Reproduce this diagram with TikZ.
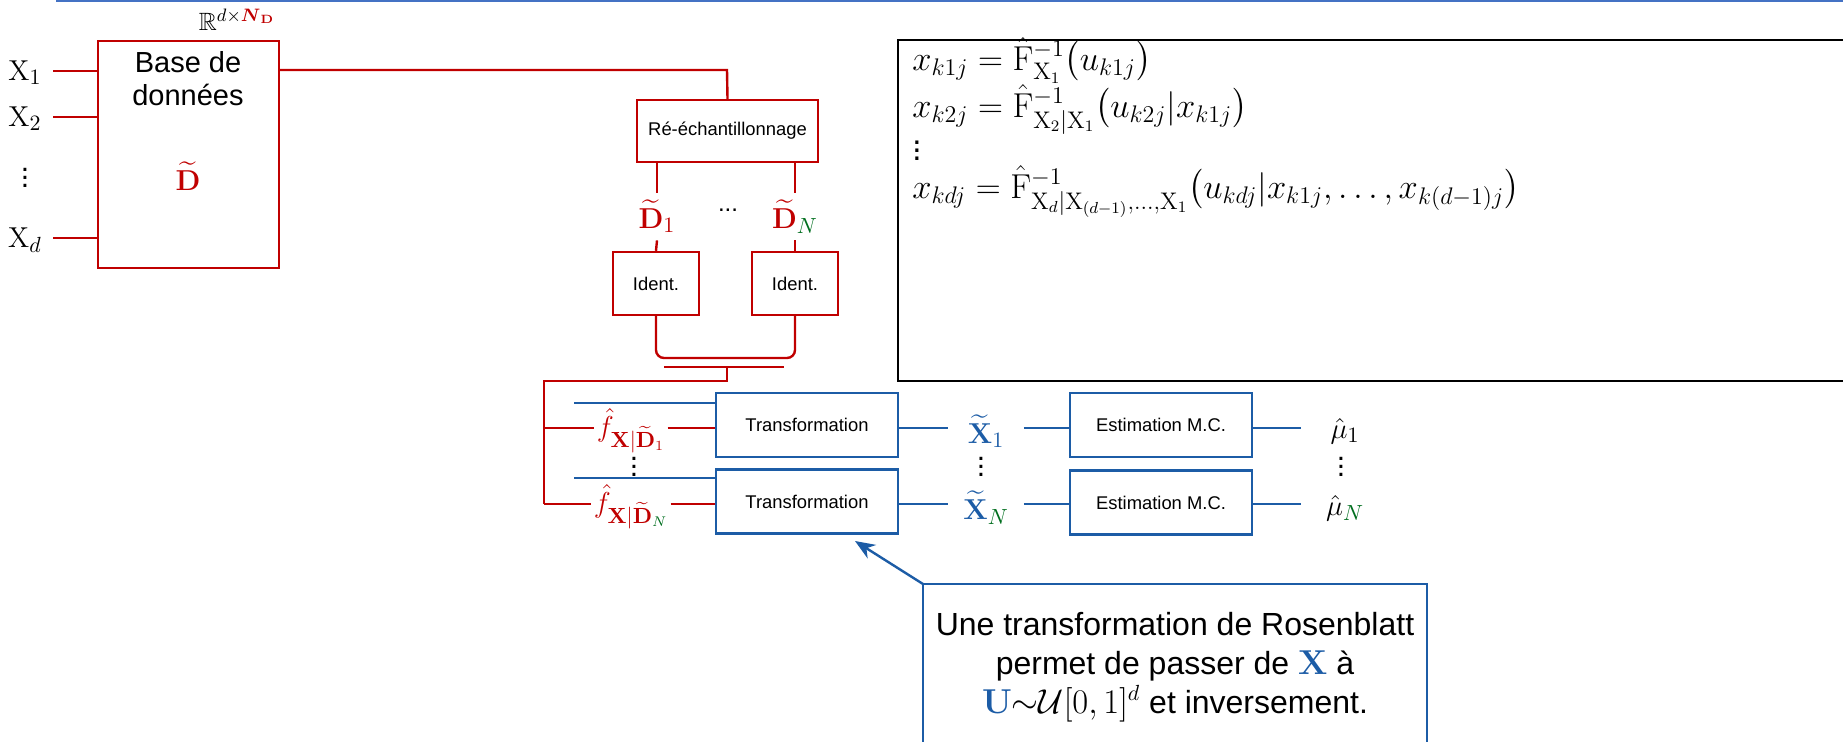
\documentclass[tikz,border=0pt]{standalone}
\usepackage{amsmath,amssymb}
\usepackage[no-math]{fontspec}
\setmainfont{Liberation Sans}
\usetikzlibrary{arrows.meta}
\definecolor{rouge}{RGB}{192,0,0}
\definecolor{bleu}{RGB}{28,92,166}
\definecolor{bleuclair}{RGB}{68,114,196}
\definecolor{vert}{RGB}{0,110,30}
\newcommand{\Fchap}{\smash[t]{\hat{\mathrm{F}}}}
\tikzset{
  box/.style = {rectangle, inner sep=0pt, align=center, line width=1.2pt,
    fill=white, font=\fontsize{9.2}{11}\selectfont},
  rb/.style = {box, draw=rouge},% red box
  bb/.style = {box, draw=bleu},% blue box
  lbl/.style = {inner sep=1pt, font=\fontsize{15}{17}\selectfont},% math label
  eqn/.style = {inner sep=0pt, anchor=base west, font=\fontsize{16.5}{19}\selectfont},% equation line
  rl/.style = {draw=rouge, line width=1.2pt},% red line
  bl/.style = {draw=bleu, line width=1.2pt}% blue line
}

\begin{document}
\begin{tikzpicture}[x=0.5pt,y=-0.5pt]
\useasboundingbox (0,0) rectangle (1843,741);
\draw[bleuclair, line width=1pt] (56,1) -- (1843,1);

% base de donnees
\node[rb, minimum width=90.5pt, minimum height=113.5pt] (base) at (188.5,154.5) {};
\node[font=\fontsize{14.5}{16.5}\selectfont, align=center] (basetxt) at (188,79) {Base de\\données};
\node[lbl, rouge] (dtot) at (188,176) {$\widetilde{\mathbf{D}}$};
\node[lbl, font=\fontsize{12.5}{14}\selectfont] (espace) at (237,20)
  {$\mathbb{R}^{d\times\textcolor{rouge}{\boldsymbol{N}_{\mathbf{D}}}}$};
\foreach \i/\y in {1/71, 2/117, d/238} {
  \node[lbl, anchor=base] (x\i) at (25,\y+9) {$\mathrm{X}_{\i}$};
  \coordinate (xs\i) at (53,\y);
  \draw[rl] (xs\i) -- (base.west |- xs\i);
}
\node[lbl] (xdots) at (25,172) {$\vdots$};

% re-echantillonnage
\node[rb, minimum width=90.5pt, minimum height=31pt] (resample) at (727.5,131) {Ré-échantillonnage};
\coordinate (coude) at (727,70);
\draw[rl] (base.east |- coude) -- (coude) -- (resample.north);
\node[lbl, rouge, minimum height=23.5pt] (d1) at (657,216.5) {$\widetilde{\mathbf{D}}_1$};
\node[lbl, rouge, minimum height=23.5pt] (dn) at (795,216.5) {$\widetilde{\mathbf{D}}_{\textcolor{vert}{N}}$};
\node[font=\fontsize{12}{14}\selectfont] (ddots) at (728,210) {...};
\node[rb, minimum width=43pt, minimum height=31.5pt] (id1) at (656,283.5) {Ident.};
\node[rb, minimum width=43pt, minimum height=31.5pt] (idn) at (795,283.5) {Ident.};
\draw[rl] (resample.south -| d1) -- (d1.north);
\draw[rl] (resample.south -| dn) -- (dn.north);
\draw[rl] (d1.south) -- (id1.north);
\draw[rl] (dn.south) -- (idn.north);

% fusion
\coordinate (fus) at (727,358);
\coordinate (barre) at (727,367);
\coordinate (bus) at (544,381);
\draw[rl, rounded corners=4pt] (id1.south) -- (id1.south |- fus) -- (idn.south |- fus) -- (idn.south);
\draw[rl] (664,367) -- (784,367);
\draw[rl] (barre) -- (barre |- bus) -- (bus) -- (544,504);

% transformation
\node[bb, minimum width=91pt, minimum height=32pt] (tr1) at (807,425) {Transformation};
\node[bb, minimum width=91pt, minimum height=32pt] (trn) at (807,501.5) {Transformation};
\coordinate (c1) at (0,428);
\coordinate (cn) at (0,504);
\node[lbl, rouge, minimum width=36pt] (f1) at (631,431) {$\hat{f}_{\mathbf{X}|\widetilde{\mathbf{D}}_1}$};
\node[lbl, rouge, minimum width=36pt] (fn) at (631,507) {$\hat{f}_{\mathbf{X}|\widetilde{\mathbf{D}}_{\textcolor{vert}{N}}}$};
\node[lbl] (fdots) at (634,461) {$\vdots$};
\draw[rl] (bus |- c1) -- (f1.west |- c1);
\draw[rl] (bus |- cn) -- (fn.west |- cn);
\draw[rl] (f1.east |- c1) -- (tr1.west |- c1);
\draw[rl] (fn.east |- cn) -- (trn.west |- cn);
\coordinate (b1) at (574,403);
\coordinate (bn) at (574,478);
\draw[bl] (b1) -- (tr1.west |- b1);
\draw[bl] (bn) -- (trn.west |- bn);

% echantillons et estimation
\node[lbl, bleu, minimum width=37.5pt] (xt1) at (986,431) {$\widetilde{\mathbf{X}}_1$};
\node[lbl, bleu, minimum width=37.5pt] (xtn) at (986,508) {$\widetilde{\mathbf{X}}_{\textcolor{vert}{N}}$};
\node[lbl] (xdots2) at (981,461) {$\vdots$};
\node[bb, minimum width=91pt, minimum height=32pt] (mc1) at (1161,425) {Estimation M.C.};
\node[bb, minimum width=91pt, minimum height=32pt] (mcn) at (1161,502.5) {Estimation M.C.};
\node[lbl, minimum width=44pt] (mu1) at (1345,431) {$\hat{\mu}_1$};
\node[lbl, minimum width=44pt] (mun) at (1345,508) {$\hat{\mu}_{\textcolor{vert}{N}}$};
\node[lbl] (mudots) at (1341,461) {$\vdots$};
\draw[bl] (tr1.east |- c1) -- (xt1.west |- c1);
\draw[bl] (trn.east |- cn) -- (xtn.west |- cn);
\draw[bl] (xt1.east |- c1) -- (mc1.west |- c1);
\draw[bl] (xtn.east |- cn) -- (mcn.west |- cn);
\draw[bl] (mc1.east |- c1) -- (mu1.west |- c1);
\draw[bl] (mcn.east |- cn) -- (mun.west |- cn);

% equations
\draw[black, line width=1.2pt] (1843,40) -- (898,40) -- (898,381) -- (1843,381);
\node[eqn] (eq1) at (912,70)
  {$x_{k1j}=\Fchap^{-1}_{\mathrm{X}_1}\big(u_{k1j}\big)$};
\node[eqn] (eq2) at (912,117)
  {$x_{k2j}=\Fchap^{-1}_{\mathrm{X}_2|\mathrm{X}_1}\big(u_{k2j}|x_{k1j}\big)$};
\node[eqn] (eq3) at (912,160) {$\vdots$};
\node[eqn] (eq4) at (912,198)
  {$x_{kdj}=\Fchap^{-1}_{\mathrm{X}_d|\mathrm{X}_{(d-1)},\dots,\mathrm{X}_1}\big(u_{kdj}|x_{k1j},\dots,x_{k(d-1)j}\big)$};

% remarque
\coordinate (bulle) at (923,584);
\coordinate (pointe) at (855,541);
\draw[bleu, line width=1pt] (923,745) -- (bulle) -- (1427,584) -- (1427,745);
\draw[bleu, line width=1.2pt, -{Stealth[length=10pt,width=8pt]}] (bulle) -- (pointe);
\node[font=\fontsize{16}{19.5}\selectfont, align=center] (note) at (1175,667)
  {Une transformation de Rosenblatt\\permet de passer de $\textcolor{bleu}{\mathbf{X}}$ à\\
   $\textcolor{bleu}{\mathbf{U}}{\sim}\mathcal{U}[0,1]^d$ et inversement.};
\end{tikzpicture}
\end{document}
